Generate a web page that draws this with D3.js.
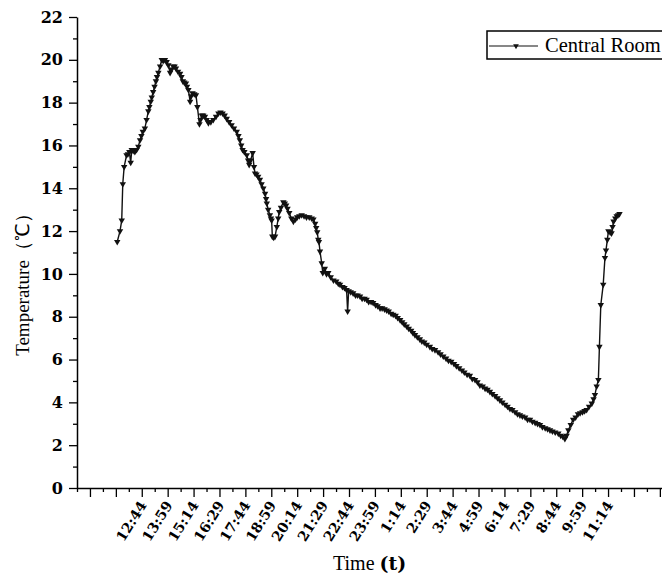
<!DOCTYPE html>
<html>
<head>
<meta charset="utf-8">
<script src="https://cdn.jsdelivr.net/npm/d3@7"></script>
<style>
  body { margin: 0; background: #fff; }
  svg { display: block; overflow: hidden; }
</style>
</head>
<body>
<div id="wrapper"></div>
<script>
// minutes elapsed since 11:29 (first reading), temperature in degC
const minutes = [
  4, 12, 17, 20, 24, 31, 35, 39, 43, 46, 50, 55, 60, 65, 70, 74, 78, 84, 89, 94,
  97, 101, 104, 108, 112, 116, 119, 123, 128, 133, 137, 142, 147, 152, 157, 161, 166, 170, 174, 180,
  186, 190, 194, 198, 203, 206, 210, 215, 218, 222, 227, 232, 236, 242, 245, 249, 253, 258, 263, 268,
  275, 282, 290, 297, 303, 309, 315, 321, 328, 335, 342, 350, 355, 359, 363, 367, 372, 379, 383, 386,
  390, 396, 400, 403, 407, 412, 417, 422, 427, 432, 435, 437, 441, 446, 449, 451, 453, 457, 461, 466,
  470, 473, 478, 485, 489, 493, 497, 502, 508, 514, 520, 525, 531, 538, 545, 552, 560, 567, 572, 577,
  580, 583, 586, 588, 591, 596, 599, 605, 610, 615, 622, 630, 638, 644, 649, 656, 662, 668, 671, 674,
  680, 687, 694, 700, 707, 713, 720, 726, 732, 739, 745, 752, 758, 765, 771, 778, 784, 790, 797, 803,
  810, 816, 823, 829, 835, 842, 848, 855, 860, 866, 873, 880, 886, 893, 900, 909, 916, 924, 933, 940,
  948, 956, 963, 971, 979, 986, 994, 1002, 1009, 1017, 1025, 1032, 1040, 1047, 1054, 1062, 1069, 1076, 1083, 1090,
  1098, 1105, 1112, 1119, 1127, 1134, 1141, 1148, 1156, 1163, 1170, 1177, 1185, 1192, 1199, 1206, 1214, 1221, 1228, 1235,
  1243, 1250, 1257, 1264, 1272, 1281, 1288, 1294, 1300, 1305, 1310, 1317, 1324, 1331, 1338, 1344, 1351, 1357, 1363, 1370,
  1378, 1383, 1387, 1392, 1397, 1400, 1404, 1411, 1416, 1419, 1423, 1426, 1431, 1435, 1438, 1441, 1446, 1450, 1454, 1458
];
const centralRoom = [
  11.5, 12.0, 12.5, 14.2, 15.0, 15.55, 15.6, 15.7, 15.2, 15.8, 15.75, 15.7, 15.8, 15.95, 16.25, 16.45, 16.65, 16.8, 17.2, 17.6,
  17.8, 18.05, 18.25, 18.5, 18.75, 19.0, 19.2, 19.4, 19.7, 20.0, 19.95, 20.0, 19.9, 19.75, 19.4, 19.55, 19.7, 19.7, 19.6, 19.45,
  19.35, 19.2, 19.0, 18.95, 18.9, 18.75, 18.6, 18.05, 18.3, 18.45, 18.4, 18.35, 17.8, 17.0, 17.2, 17.4, 17.4, 17.35, 17.2, 17.05,
  17.1, 17.2, 17.35, 17.5, 17.55, 17.5, 17.4, 17.25, 17.1, 16.95, 16.8, 16.65, 16.45, 16.25, 16.0, 15.8, 15.7, 15.55, 15.3, 15.1,
  15.3, 15.65, 15.0, 14.7, 14.65, 14.55, 14.4, 14.2, 14.0, 13.75, 13.5, 13.3, 13.0, 12.75, 12.6, 12.5, 11.75, 11.7, 11.75, 12.2,
  12.6, 12.9, 13.1, 13.35, 13.3, 13.2, 13.05, 12.85, 12.6, 12.45, 12.55, 12.65, 12.7, 12.75, 12.7, 12.65, 12.65, 12.6, 12.55, 12.35,
  12.15, 11.95, 11.6, 11.5, 11.05, 10.5, 10.05, 10.25, 10.0, 10.05, 9.85, 9.7, 9.65, 9.55, 9.5, 9.4, 9.35, 9.25, 8.25, 9.2,
  9.15, 9.1, 9.0, 9.0, 8.95, 8.85, 8.85, 8.8, 8.7, 8.7, 8.65, 8.55, 8.5, 8.4, 8.4, 8.35, 8.3, 8.25, 8.15, 8.1,
  8.05, 7.95, 7.85, 7.75, 7.65, 7.55, 7.45, 7.35, 7.25, 7.15, 7.05, 6.95, 6.85, 6.8, 6.7, 6.6, 6.5, 6.45, 6.35, 6.25,
  6.15, 6.05, 5.95, 5.9, 5.8, 5.7, 5.6, 5.5, 5.4, 5.3, 5.25, 5.1, 5.05, 4.95, 4.8, 4.75, 4.65, 4.6, 4.5, 4.4,
  4.3, 4.2, 4.1, 4.0, 3.9, 3.8, 3.7, 3.65, 3.55, 3.45, 3.4, 3.35, 3.3, 3.2, 3.2, 3.1, 3.05, 3.0, 2.95, 2.85,
  2.8, 2.75, 2.7, 2.65, 2.6, 2.55, 2.45, 2.4, 2.3, 2.45, 2.7, 2.95, 3.2, 3.3, 3.45, 3.5, 3.55, 3.6, 3.65, 3.8,
  3.95, 4.15, 4.35, 4.75, 5.05, 6.6, 8.55, 9.5, 10.75, 11.1, 11.6, 12.0, 11.95, 11.9, 12.2, 12.45, 12.6, 12.7, 12.75, 12.8
];
// x tick labels, one every 75 minutes starting at 12:44
const timeLabels = [
  "12:44", "13:59", "15:14", "16:29", "17:44", "18:59", "20:14", "21:29", "22:44", "23:59",
  "1:14", "2:29", "3:44", "4:59", "6:14", "7:29", "8:44", "9:59", "11:14"
];
const seriesName = "Central Room";

const dataset = minutes.map((m, i) => ({ t: m, temp: centralRoom[i] }));

const width = 662, height = 577;
const svg = d3.select("#wrapper").append("svg")
  .attr("width", width)
  .attr("height", height);

// scales
const xScale = d3.scaleLinear()
  .domain([-112.5, 1687.5])
  .range([77, 77 + 1800 * 0.3454]);
const yScale = d3.scaleLinear()
  .domain([0, 22])
  .range([488, 17]);

// y axis
const yMajor = d3.range(0, 23, 2);
const yMinor = d3.range(1, 22, 2);
svg.append("g")
  .attr("transform", "translate(77,0)")
  .call(d3.axisLeft(yScale).tickValues(yMinor).tickSize(4).tickSizeOuter(0).tickFormat(""))
  .call(g => g.select(".domain").remove())
  .selectAll("line").attr("stroke-width", 1.3);
const yAxis = svg.append("g")
  .attr("transform", "translate(77,0)")
  .call(d3.axisLeft(yScale).tickValues(yMajor).tickSize(8).tickSizeOuter(0).tickPadding(6));
yAxis.select(".domain").attr("stroke-width", 1.5);
yAxis.selectAll("line").attr("stroke-width", 1.3);
yAxis.selectAll("text")
  .attr("font-family", "'DejaVu Serif', serif")
  .attr("font-weight", "bold")
  .attr("font-size", 16)
  .attr("fill", "#000");

// x axis
const xMajor = d3.range(-75, 1650, 75);
const xMinor = xMajor.map(v => v - 37.5).concat([1612.5]);
svg.append("g")
  .attr("transform", "translate(0,488)")
  .call(d3.axisBottom(xScale).tickValues(xMinor).tickSize(4).tickSizeOuter(0).tickFormat(""))
  .call(g => g.select(".domain").remove())
  .selectAll("line").attr("stroke-width", 1.3);
const xAxis = svg.append("g")
  .attr("transform", "translate(0,488)")
  .call(d3.axisBottom(xScale).tickValues(xMajor).tickSize(9).tickSizeOuter(0)
    .tickFormat(v => timeLabels[v / 75 - 1] || ""));
xAxis.select(".domain").attr("stroke-width", 1.5);
xAxis.selectAll("line").attr("stroke-width", 1.3);
xAxis.selectAll("text")
  .attr("font-family", "'DejaVu Serif', serif")
  .attr("font-weight", "bold")
  .attr("font-size", 14)
  .attr("fill", "#000")
  .attr("text-anchor", "end")
  .attr("x", 0)
  .attr("y", 0)
  .attr("dy", 0)
  .attr("transform", "translate(5,17) rotate(-58)");

// axis titles
svg.append("text")
  .attr("transform", "translate(29,280) rotate(-90)")
  .attr("text-anchor", "middle")
  .attr("font-family", "'Liberation Serif', serif")
  .attr("font-size", 19)
  .text("Temperature（℃）");

const xTitle = svg.append("text")
  .attr("x", 333)
  .attr("y", 570)
  .attr("font-family", "'Liberation Serif', serif")
  .attr("font-size", 20);
xTitle.append("tspan").text("Time ");
xTitle.append("tspan")
  .attr("font-family", "'DejaVu Serif', serif")
  .attr("font-weight", "bold")
  .attr("font-size", 19)
  .text("(t)");

// line + markers
const line = d3.line()
  .x(d => xScale(d.t))
  .y(d => yScale(d.temp));

svg.append("path")
  .datum(dataset)
  .attr("d", line)
  .attr("fill", "none")
  .attr("stroke", "#111")
  .attr("stroke-width", 1.4);

const marker = d3.symbol().type(d3.symbolTriangle).size(18);
svg.selectAll(".dot")
  .data(dataset)
  .enter().append("path")
    .attr("class", "dot")
    .attr("d", marker)
    .attr("transform", d => `translate(${xScale(d.t)},${yScale(d.temp)}) rotate(180)`)
    .attr("fill", "#111");

// legend
const legend = svg.append("g");
legend.append("rect")
  .attr("x", 487).attr("y", 31)
  .attr("width", 220).attr("height", 28)
  .attr("fill", "#fff")
  .attr("stroke", "#000")
  .attr("stroke-width", 1.5);
legend.append("line")
  .attr("x1", 489).attr("x2", 538)
  .attr("y1", 46).attr("y2", 46)
  .attr("stroke", "#111").attr("stroke-width", 1.2);
legend.append("path")
  .attr("d", d3.symbol().type(d3.symbolTriangle).size(14))
  .attr("transform", "translate(516,46) rotate(180)")
  .attr("fill", "#111");
legend.append("text")
  .attr("x", 545).attr("y", 52)
  .attr("font-family", "'Liberation Serif', serif")
  .attr("font-size", 20.5)
  .text(seriesName);
</script>
</body>
</html>
